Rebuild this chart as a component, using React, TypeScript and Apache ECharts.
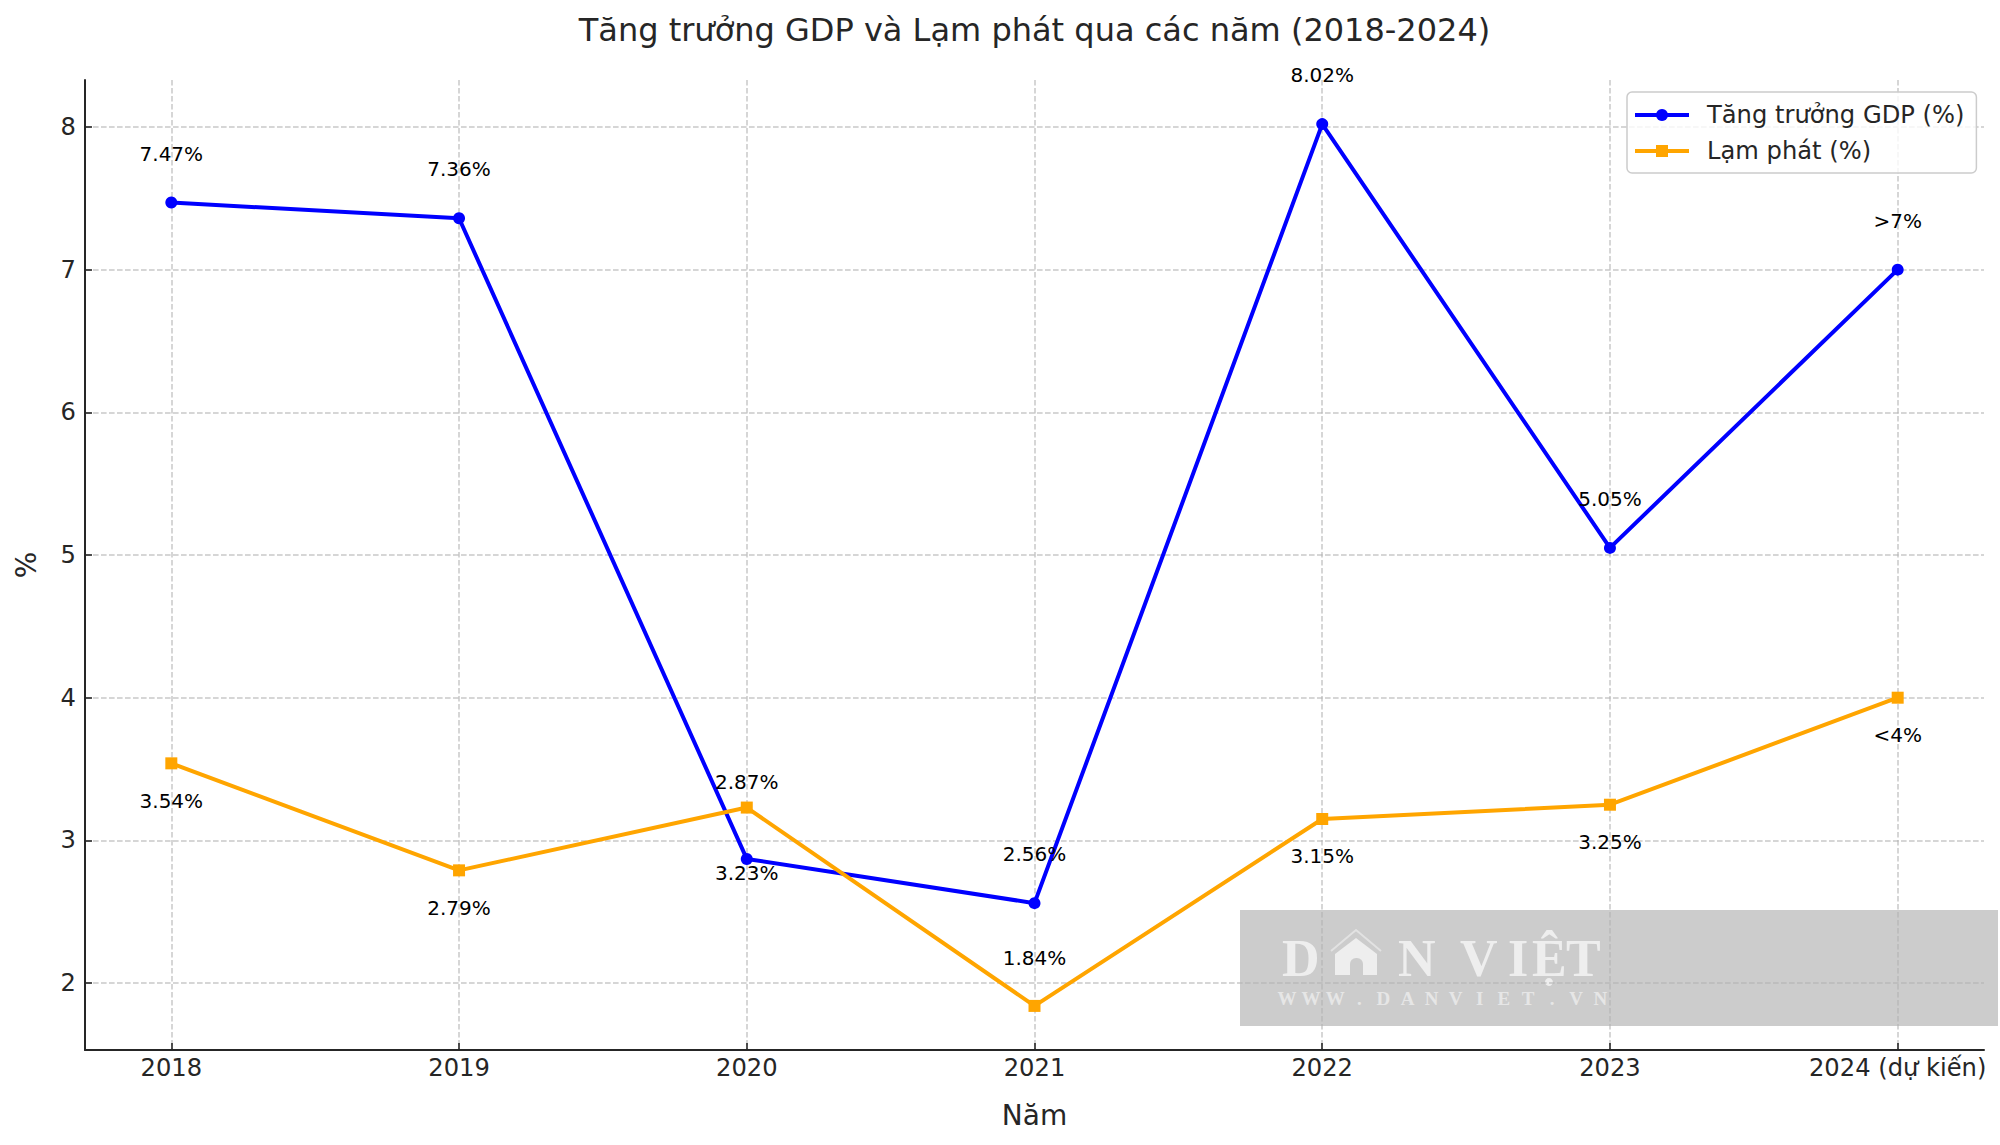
import React, { useEffect, useRef } from "react";
import * as echarts from "echarts";

// ---- Data ----
const years = ["2018", "2019", "2020", "2021", "2022", "2023", "2024 (dự kiến)"];
const gdpGrowth = [7.47, 7.36, 2.87, 2.56, 8.02, 5.05, 7.0];
const inflation = [3.54, 2.79, 3.23, 1.84, 3.15, 3.25, 4.0];
const gdpLabels = ["7.47%", "7.36%", "2.87%", "2.56%", "8.02%", "5.05%", ">7%"];
const inflationLabels = ["3.54%", "2.79%", "3.23%", "1.84%", "3.15%", "3.25%", "<4%"];
const yTicks = [2, 3, 4, 5, 6, 7, 8];
const seriesNames = ["Tăng trưởng GDP (%)", "Lạm phát (%)"];
const titleText = "Tăng trưởng GDP và Lạm phát qua các năm (2018-2024)";
const xAxisName = "Năm";
const yAxisName = "%";
const watermarkTitle = ["D", "N", "V", "I", "Ệ", "T"];
const watermarkUrl = "WWW.DANVIET.VN";

const FONT = "DejaVu Sans";
const SERIF = "Liberation Serif";
const TEXT = "#262626";

export default function App() {
  const ref = useRef<HTMLDivElement>(null);

  useEffect(() => {
    if (!ref.current) return;
    const chart = echarts.init(ref.current, undefined, { renderer: "svg" });

    const all = [...gdpGrowth, ...inflation];
    const lo = Math.min(...all);
    const hi = Math.max(...all);
    const pad = (hi - lo) * 0.05;
    const xPad = (years.length - 1) * 0.05;
    const idx = years.map((_, i) => i);

    // label placement (pixel offsets from the marker centre)
    const gdpShift = [-49, -49, -77, -49, -49, -49, -49];
    const infShift = [37.5, 37.5, 65, -48, 37.5, 37.5, 37.5];

    const labelBase = {
      show: true,
      position: "inside",
      fontSize: 20,
      color: "#000",
      fontFamily: FONT,
    };

    // watermark letters (decoration)
    const wmX = [1282, 1398, 1460, 1508, 1532, 1566];
    const wmLetters = watermarkTitle.map((ch, i) => ({
      type: "text",
      z: -1,
      x: wmX[i],
      y: 958,
      style: {
        text: ch,
        fill: "#eeeeee",
        font: `bold 52px "${SERIF}"`,
        textAlign: "left",
        textVerticalAlign: "middle",
      },
    }));
    const urlChars = watermarkUrl.split("").map((ch, i) => ({
      type: "text",
      z: -1,
      x: 1287 + i * 24.1,
      y: 998,
      style: {
        text: ch,
        fill: "#e6e6e6",
        font: `bold 19px "${SERIF}"`,
        textAlign: "center",
        textVerticalAlign: "middle",
      },
    }));

    const option: any = {
      animation: false,
      backgroundColor: "#ffffff",
      title: {
        text: titleText,
        left: 1034.5,
        top: 14,
        padding: 0,
        textAlign: "center",
        textStyle: {
          fontSize: 32,
          fontWeight: "normal",
          color: TEXT,
          fontFamily: FONT,
        },
      },
      legend: {
        data: seriesNames,
        orient: "vertical",
        left: 1627,
        top: 92,
        padding: [10, 12, 9, 6],
        itemWidth: 54,
        itemHeight: 15,
        itemGap: 10,
        backgroundColor: "rgba(255,255,255,0.8)",
        borderColor: "#cccccc",
        borderWidth: 1.5,
        borderRadius: 5,
        lineStyle: { width: 4 },
        textStyle: {
          fontSize: 24.2,
          lineHeight: 26,
          color: TEXT,
          fontFamily: FONT,
          padding: [0, 0, 0, 13],
        },
      },
      grid: {
        left: 85,
        right: 16,
        top: 80,
        bottom: 95,
        containLabel: false,
        outerBoundsMode: "none",
      },
      xAxis: {
        type: "value",
        min: -xPad,
        max: years.length - 1 + xPad,
        name: xAxisName,
        nameLocation: "middle",
        nameGap: 51,
        nameTextStyle: { fontSize: 28, color: TEXT, fontFamily: FONT },
        axisLine: { show: true, onZero: false, lineStyle: { color: TEXT, width: 2 } },
        axisTick: {
          show: true,
          inside: true,
          length: 7,
          customValues: idx,
          lineStyle: { color: TEXT, width: 1.6 },
        },
        axisLabel: {
          customValues: idx,
          formatter: (v: number) => years[Math.round(v)] ?? "",
          fontSize: 24.2,
          color: TEXT,
          margin: 5.5,
          fontFamily: FONT,
        },
        splitLine: {
          show: true,
          lineStyle: { color: "rgba(176,176,176,0.7)", width: 1.5, type: [5.6, 2.4] },
        },
      },
      yAxis: {
        type: "value",
        min: lo - pad,
        max: hi + pad,
        name: yAxisName,
        nameLocation: "middle",
        nameGap: 45,
        nameTextStyle: { fontSize: 28, color: TEXT, fontFamily: FONT },
        axisLine: { show: true, onZero: false, lineStyle: { color: TEXT, width: 2 } },
        axisTick: {
          show: true,
          inside: true,
          length: 7,
          customValues: yTicks,
          lineStyle: { color: TEXT, width: 1.6 },
        },
        axisLabel: {
          customValues: yTicks,
          formatter: (v: number) => String(v),
          fontSize: 24.2,
          color: TEXT,
          margin: 9,
          fontFamily: FONT,
        },
        splitLine: {
          show: true,
          lineStyle: { color: "rgba(176,176,176,0.7)", width: 1.5, type: [5.6, 2.4] },
        },
      },
      series: [
        {
          name: seriesNames[0],
          type: "line",
          z: 3,
          symbol: "circle",
          symbolSize: 12,
          lineStyle: { color: "#0000ff", width: 4 },
          itemStyle: { color: "#0000ff" },
          label: labelBase,
          emphasis: { disabled: true },
          data: gdpGrowth.map((v, i) => ({
            value: [i, v],
            label: { offset: [0, gdpShift[i]], formatter: gdpLabels[i] },
          })),
        },
        {
          name: seriesNames[1],
          type: "line",
          z: 4,
          symbol: "rect",
          symbolSize: 12,
          lineStyle: { color: "#ffa500", width: 4 },
          itemStyle: { color: "#ffa500" },
          label: labelBase,
          emphasis: { disabled: true },
          data: inflation.map((v, i) => ({
            value: [i, v],
            label: { offset: [0, infShift[i]], formatter: inflationLabels[i] },
          })),
        },
      ],
      graphic: {
        elements: [
          {
            type: "rect",
            z: -2,
            shape: { x: 1240, y: 910, width: 758, height: 116 },
            style: { fill: "#cccccc" },
          },
          {
            type: "polygon",
            z: -1,
            shape: {
              points: [
                [1335, 975],
                [1335, 954],
                [1356, 938],
                [1377, 954],
                [1377, 975],
              ],
            },
            style: { fill: "#eeeeee" },
          },
          {
            type: "rect",
            z: -1,
            shape: { x: 1350, y: 958, width: 13, height: 17, r: [6, 6, 0, 0] },
            style: { fill: "#cccccc" },
          },
          {
            type: "polyline",
            z: -1,
            shape: {
              points: [
                [1331, 951],
                [1356, 930],
                [1381, 951],
              ],
            },
            style: { stroke: "#e2e2e2", lineWidth: 2, fill: null },
          },
          ...wmLetters,
          ...urlChars,
        ],
      },
    };

    chart.setOption(option);
    return () => chart.dispose();
  }, []);

  return (
    <div
      ref={ref}
      style={{ position: "absolute", left: 0, top: 0, width: 2000, height: 1145 }}
    />
  );
}
